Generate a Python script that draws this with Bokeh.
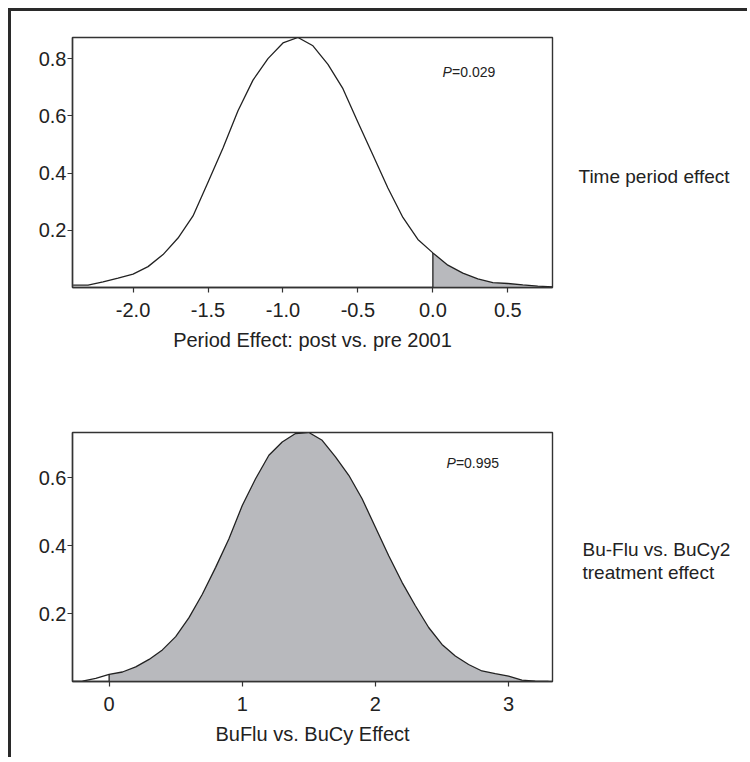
import numpy as np
from bokeh.plotting import figure
from bokeh.layouts import column, row
from bokeh.models import Range1d, FixedTicker, NumeralTickFormatter, Label
from bokeh.embed import file_html
from bokeh.resources import INLINE

# ---------------- data ----------------
period_x = [-2.4, -2.3, -2.2, -2.1, -2.0, -1.9, -1.8, -1.7, -1.6, -1.5, -1.4,
            -1.3, -1.2, -1.1, -1.0, -0.9, -0.8, -0.7, -0.6, -0.5, -0.4, -0.3,
            -0.2, -0.1, 0.0, 0.1, 0.2, 0.3, 0.4, 0.5, 0.6, 0.7, 0.8]
period_density = [0.008, 0.008, 0.020, 0.033, 0.047, 0.073, 0.115, 0.173, 0.250,
                  0.368, 0.488, 0.618, 0.725, 0.800, 0.855, 0.874, 0.845, 0.780,
                  0.695, 0.578, 0.463, 0.348, 0.245, 0.168, 0.121, 0.078, 0.050,
                  0.030, 0.017, 0.014, 0.009, 0.005, 0.002]
period_xticks = [-2.0, -1.5, -1.0, -0.5, 0.0, 0.5]
period_yticks = [0.2, 0.4, 0.6, 0.8]
period_p = "=0.029"
period_xlabel = "Period Effect: post vs. pre 2001"
period_side = ["Time period effect"]

treat_x = [-0.3, -0.2, -0.1, 0.0, 0.1, 0.2, 0.3, 0.4, 0.5, 0.6, 0.7, 0.8, 0.9,
           1.0, 1.1, 1.2, 1.3, 1.4, 1.5, 1.6, 1.7, 1.8, 1.9, 2.0, 2.1, 2.2,
           2.3, 2.4, 2.5, 2.6, 2.7, 2.8, 2.9, 3.0, 3.1, 3.2, 3.3]
treat_density = [0.000, 0.001, 0.009, 0.021, 0.028, 0.043, 0.065, 0.093, 0.132,
                 0.188, 0.257, 0.336, 0.420, 0.518, 0.597, 0.666, 0.705, 0.730,
                 0.733, 0.710, 0.661, 0.607, 0.538, 0.454, 0.370, 0.292, 0.223,
                 0.159, 0.109, 0.075, 0.050, 0.031, 0.023, 0.016, 0.004, 0.001,
                 0.000]
treat_xticks = [0, 1, 2, 3]
treat_yticks = [0.2, 0.4, 0.6]
treat_p = "=0.995"
treat_xlabel = "BuFlu vs. BuCy Effect"
treat_side = ["Bu-Flu vs. BuCy2", "treatment effect"]

FONT = "Liberation Sans"
INK = "#222222"
SHADE = "#b8b9bd"
SIDE_W = 185


def make_panel(xs, ys, xr, yr, xticks, yticks, xfmt, xlabel, ptext, pxy,
               top_border, frame_h, bottom_border):
    p = figure(output_backend="svg", toolbar_location=None,
               frame_width=480, frame_height=frame_h,
               min_border_left=61, min_border_right=10,
               min_border_top=top_border, min_border_bottom=bottom_border,
               x_range=Range1d(*xr), y_range=Range1d(*yr))
    p.background_fill_color = "white"
    p.border_fill_color = "white"
    p.grid.visible = False
    p.outline_line_color = "#333333"
    p.outline_line_width = 1.4

    xa = np.array(xs)
    ya = np.array(ys)
    m = xa >= 0
    p.varea(x=xa[m], y1=np.zeros(m.sum()), y2=ya[m], fill_color=SHADE)
    x0 = xa[m][0]
    p.segment(x0=[x0], y0=[0], x1=[x0], y1=[ya[m][0]], line_color=INK, line_width=1.3)
    p.line(xa, ya, line_color=INK, line_width=1.3)

    for ax in (p.xaxis[0], p.yaxis[0]):
        ax.axis_line_color = "#333333"
        ax.axis_line_width = 1.4
        ax.major_tick_line_color = "#333333"
        ax.major_tick_line_width = 1.2
        ax.major_tick_in = 0
        ax.major_tick_out = 5
        ax.minor_tick_line_color = None
        ax.major_label_text_font = FONT
        ax.major_label_text_font_size = "20px"
        ax.major_label_text_color = INK
    p.xaxis.ticker = FixedTicker(ticks=xticks)
    p.yaxis.ticker = FixedTicker(ticks=yticks)
    p.xaxis.formatter = NumeralTickFormatter(format=xfmt)
    p.yaxis.formatter = NumeralTickFormatter(format="0.0")
    p.xaxis.major_label_standoff = 10
    p.yaxis.major_label_standoff = 1
    p.xaxis.axis_label = xlabel
    p.xaxis.axis_label_text_font = FONT
    p.xaxis.axis_label_text_font_size = "20px"
    p.xaxis.axis_label_text_font_style = "normal"
    p.xaxis.axis_label_text_color = INK
    p.xaxis.axis_label_standoff = 9

    p.add_layout(Label(x=pxy[0], y=pxy[1], text="P", text_font=FONT,
                       text_font_size="14px", text_font_style="italic",
                       text_color=INK, text_baseline="middle"))
    p.add_layout(Label(x=pxy[0], y=pxy[1], x_offset=9.5, text=ptext, text_font=FONT,
                       text_font_size="14px", text_color=INK, text_baseline="middle"))
    return p


def make_side(lines, height, tx, ty):
    t = figure(output_backend="svg", toolbar_location=None, title=None,
               frame_width=SIDE_W, frame_height=height,
               min_border_left=0, min_border_right=0,
               min_border_top=0, min_border_bottom=0,
               x_range=Range1d(0, SIDE_W), y_range=Range1d(0, height),
               x_axis_type=None, y_axis_type=None)
    t.grid.visible = False
    t.outline_line_color = None
    t.background_fill_color = "white"
    t.border_fill_color = "white"
    for i, s in enumerate(lines):
        t.add_layout(Label(x=tx, y=ty, y_offset=-23 * i, text=s,
                           text_font=FONT, text_font_size="19px", text_color=INK,
                           text_baseline="middle"))
    return t


p1 = make_panel(period_x, period_density, (-2.404, 0.798), (0, 0.874),
                period_xticks, period_yticks, "0.0", period_xlabel,
                period_p, (0.065, 0.752), 26, 250, 114)
p2 = make_panel(treat_x, treat_density, (-0.275, 3.33), (0, 0.733),
                treat_xticks, treat_yticks, "0", treat_xlabel,
                treat_p, (2.533, 0.642), 31, 249, 76)

t1 = make_side(period_side, 390, 16, 251)
t2 = make_side(treat_side, 356, 20, 239)

layout = column(row(p1, t1, spacing=0), row(p2, t2, spacing=0), spacing=0,
                styles={"margin-left": "8px", "margin-top": "8px",
                        "border-left": "3px solid #2a2a2a",
                        "border-top": "3px solid #2a2a2a"})

open("out.html", "w").write(file_html(layout, INLINE))
